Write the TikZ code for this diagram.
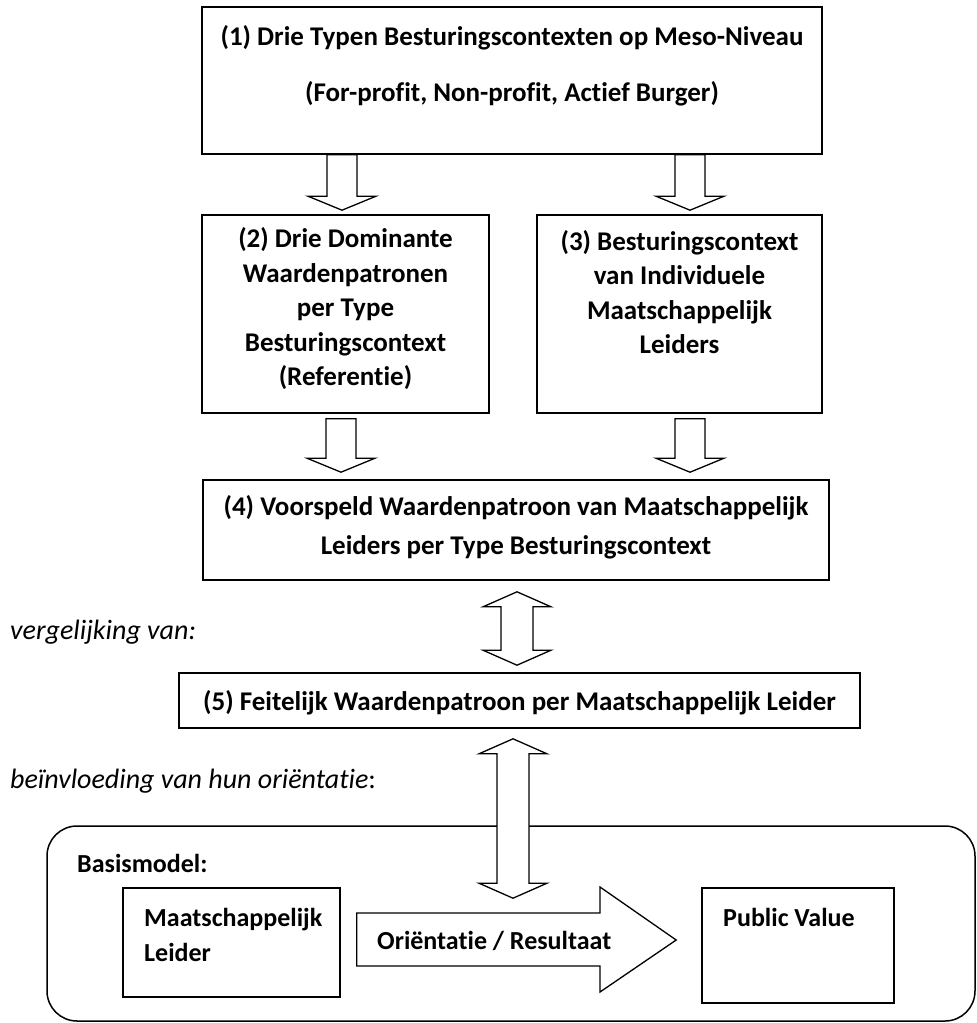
\documentclass[tikz,border=0pt]{standalone}
\usepackage{fontspec}
\setmainfont{Carlito}[Ligatures={NoCommon}]
\usetikzlibrary{calc}
\tikzset{
  box/.style={draw, line width=1.6pt, inner sep=0pt, fill=white},
  txt/.style={font=\bfseries\fontsize{27}{34.5}\selectfont, align=center, inner sep=0pt},
  ltxt/.style={font=\bfseries\fontsize{26}{35}\selectfont, align=left, inner sep=0pt, anchor=west},
  itxt/.style={font=\itshape\fontsize{28}{34}\selectfont, inner sep=0pt, anchor=west},
  blk/.style={draw, line width=1.3pt, fill=white, line join=miter},
}
% vertical block arrow: #1 centre x, #2 top anchor, #3 bottom anchor, #4 top gap, #5 tip gap
\newcommand\dnblock[5]{%
  \draw[blk] let \p1=(#2), \p2=(#3) in
    (#1pt-15pt,\y1-#4pt) -- (#1pt+15pt,\y1-#4pt) -- (#1pt+15pt,\y2+#5pt+14pt)
    -- (#1pt+34pt,\y2+#5pt+14pt) -- (#1pt,\y2+#5pt) -- (#1pt-34pt,\y2+#5pt+14pt)
    -- (#1pt-15pt,\y2+#5pt+14pt) -- cycle;}
% double vertical block arrow: #1 centre x, #2 top anchor, #3 bottom anchor, #4 top gap, #5 bottom gap (negative = overlap)
\newcommand\dblblock[5]{%
  \draw[blk] let \p1=(#2), \p2=(#3) in
    (#1pt,\y1-#4pt) -- (#1pt+34pt,\y1-#4pt-15pt) -- (#1pt+16pt,\y1-#4pt-15pt)
    -- (#1pt+16pt,\y2+#5pt+15pt) -- (#1pt+34pt,\y2+#5pt+15pt) -- (#1pt,\y2+#5pt)
    -- (#1pt-34pt,\y2+#5pt+15pt) -- (#1pt-16pt,\y2+#5pt+15pt)
    -- (#1pt-16pt,\y1-#4pt-15pt) -- (#1pt-34pt,\y1-#4pt-15pt) -- cycle;}
\begin{document}
\begin{tikzpicture}[x=1pt,y=-1pt]
\useasboundingbox (0,0) rectangle (977,1023);
% boxes
\node[box, minimum width=620pt, minimum height=147pt] (b1) at (512,80.5) {};
\node[txt] (b1t) at (512,66) {(1) Drie Typen Besturingscontexten op Meso-Niveau\\[21pt](For-profit, Non-profit, Actief Burger)};
\node[box, minimum width=287pt, minimum height=198pt] (b2) at (345.5,314) {};
\node[txt] (b2t) at (345.5,309) {(2) Drie Dominante\\Waardenpatronen\\per Type\\Besturingscontext\\(Referentie)};
\node[box, minimum width=285pt, minimum height=198pt] (b3) at (679.5,314) {};
\node[txt] (b3t) at (679.5,292) {(3) Besturingscontext\\van Individuele\\Maatschappelijk\\Leiders};
\node[box, minimum width=626pt, minimum height=100pt] (b4) at (516,530) {};
\node[txt] (b4t) at (516,527.5) {(4) Voorspeld Waardenpatroon van Maatschappelijk\\[4.5pt]Leiders per Type Besturingscontext};
\node[box, minimum width=681pt, minimum height=55pt] (b5) at (519.5,700.5) {};
\node[txt] (b5t) at (519.5,703) {(5) Feitelijk Waardenpatroon per Maatschappelijk Leider};
% side labels
\node[itxt] (v1) at (10,632) {vergelijking van:};
\node[itxt] (v2) at (10,781) {beïnvloeding van hun oriëntatie\upshape:};
% basis model
\node[draw, line width=1.5pt, rounded corners=30pt, minimum width=928pt, minimum height=195pt, inner sep=0pt] (basis) at (511,923.5) {};
\node[ltxt] (bm) at (77,863) {Basismodel:};
\node[box, minimum width=217pt, minimum height=109pt] (ml) at (231.5,942.5) {};
\node[ltxt] (mlt) at (144,934.5) {Maatschappelijk\\Leider};
\node[box, minimum width=192pt, minimum height=115pt] (pv) at (798,945.5) {};
\node[ltxt] (pvt) at (723,917) {Public Value};
% big arrow
\draw[blk] let \p1=(ml.east), \p2=(pv.west) in
  (\x1+16pt,-913pt) -- (600pt,-913pt) -- (600pt,-887pt) -- (\x2-25pt,-940pt)
  -- (600pt,-992pt) -- (600pt,-966pt) -- (\x1+16pt,-966pt) -- cycle;
\node[ltxt] (or) at (377,941) {Oriëntatie / Resultaat};
% down arrows
\dnblock{342}{b1.south}{b2.north}{0}{4}
\dnblock{690}{b1.south}{b3.north}{0}{4}
\dnblock{341}{b2.south}{b4.north}{5}{7}
\dnblock{690}{b3.south}{b4.north}{5}{7}
% double arrows
\dblblock{517}{b4.south}{b5.north}{11}{7}
\dblblock{513}{b5.south}{ml.north}{10}{-11}
\end{tikzpicture}
\end{document}
